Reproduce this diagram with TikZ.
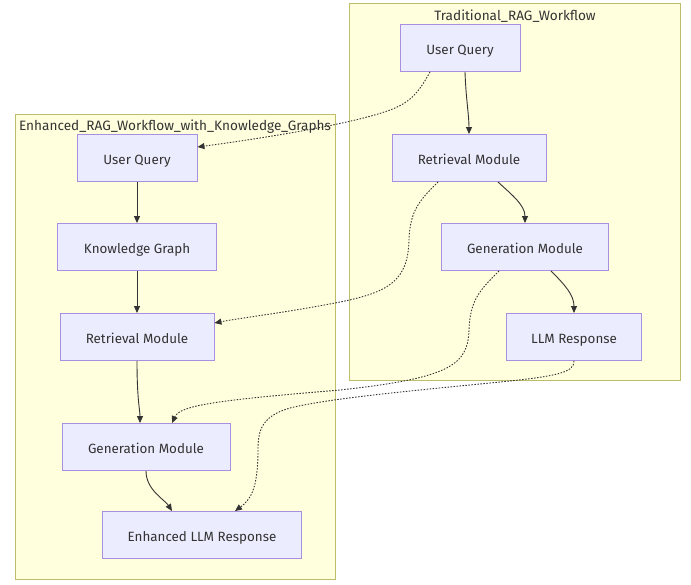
\documentclass[tikz,border=0pt]{standalone}
\usepackage{fontspec}
\setmainfont{Fira Sans}
\usetikzlibrary{arrows.meta}
\definecolor{clfill}{HTML}{FFFFDE}
\definecolor{cldraw}{HTML}{BDBD6A}
\definecolor{ndfill}{HTML}{ECECFF}
\definecolor{nddraw}{HTML}{A98FE0}
\definecolor{txt}{HTML}{333333}
\definecolor{edge}{HTML}{333333}
\tikzset{
  cluster/.style={draw=cldraw, fill=clfill, line width=0.9pt},
  cltitle/.style={font=\fontsize{13.6}{16}\selectfont, text=txt, inner sep=0pt},
  box/.style={draw=nddraw, fill=ndfill, line width=0.9pt, minimum height=47pt,
    font=\fontsize{13.4}{16}\selectfont, text=txt, inner sep=0pt,
    text height=12pt, text depth=0pt},
  flow/.style={draw=edge, line width=0.9pt, -{Triangle[length=7pt,width=6pt]}},
  cross/.style={draw=edge, line width=0.9pt, dash pattern=on 1.5pt off 1.5pt,
    -{Triangle[length=7pt,width=6pt]}}
}
\begin{document}
\begin{tikzpicture}[x=1pt,y=-1pt]
\useasboundingbox[fill=white] (0,0) rectangle (691,584);
% clusters
\path[cluster] (349,3) rectangle (680,380);
\path[cluster] (15,114) rectangle (335,579);
\node[cltitle] (ttitle) at (515,16) {Traditional\_RAG\_Workflow};
\node[cltitle] (etitle) at (175,127) {Enhanced\_RAG\_Workflow\_with\_Knowledge\_Graphs};
% traditional nodes
\node[box, minimum width=120pt] (tuq) at (460,48) {User Query};
\node[box, minimum width=154pt] (trm) at (469,158) {Retrieval Module};
\node[box, minimum width=167pt] (tgm) at (525,247) {Generation Module};
\node[box, minimum width=135pt] (tllm) at (574,337) {LLM Response};
% enhanced nodes
\node[box, minimum width=120pt] (euq) at (137,158) {User Query};
\node[box, minimum width=159pt] (ekg) at (137,247) {Knowledge Graph};
\node[box, minimum width=154pt] (erm) at (137,337) {Retrieval Module};
\node[box, minimum width=168pt] (egm) at (146,447) {Generation Module};
\node[box, minimum width=199pt] (ellm) at (202,535) {Enhanced LLM Response};
% traditional edges
\draw[flow] ([xshift=5pt]tuq.south) .. controls (466,100) and (469,115) .. (trm.north);
\draw[flow] ([xshift=29pt]trm.south) .. controls (512,195) and (525,205) .. (tgm.north);
\draw[flow] ([xshift=26pt]tgm.south) .. controls (565,285) and (574,295) .. (tllm.north);
% enhanced edges
\draw[flow] (euq.south) -- (ekg.north);
\draw[flow] (ekg.south) -- (erm.north);
\draw[flow] (erm.south) .. controls (137,400) and (140,410) .. ([xshift=-6pt]egm.north);
\draw[flow] (egm.south) .. controls (146,490) and (165,500) .. ([xshift=-30pt]ellm.north);
% cross edges
\draw[cross] ([xshift=-30pt]tuq.south) .. controls (420,90) and (412,102) .. (390,110)
  .. controls (350,125) and (250,140) .. ([yshift=11pt]euq.east);
\draw[cross] ([xshift=-31pt]trm.south) .. controls (420,200) and (410,210) .. (409,240)
  .. controls (408,280) and (390,292) .. (340,302)
  .. controls (290,312) and (240,318) .. ([yshift=14pt]erm.east);
\draw[cross] ([xshift=-26pt]tgm.south) .. controls (480,290) and (470,300) .. (469,330)
  .. controls (468,365) and (450,378) .. (340,390)
  .. controls (220,400) and (180,405) .. ([xshift=26pt]egm.north);
\draw[cross] (tllm.south) .. controls (574,372) and (560,376) .. (500,382)
  .. controls (420,390) and (330,398) .. (290,408)
  .. controls (262,416) and (258,430) .. (258,450)
  .. controls (258,490) and (250,500) .. ([xshift=33pt]ellm.north);
\end{tikzpicture}
\end{document}
